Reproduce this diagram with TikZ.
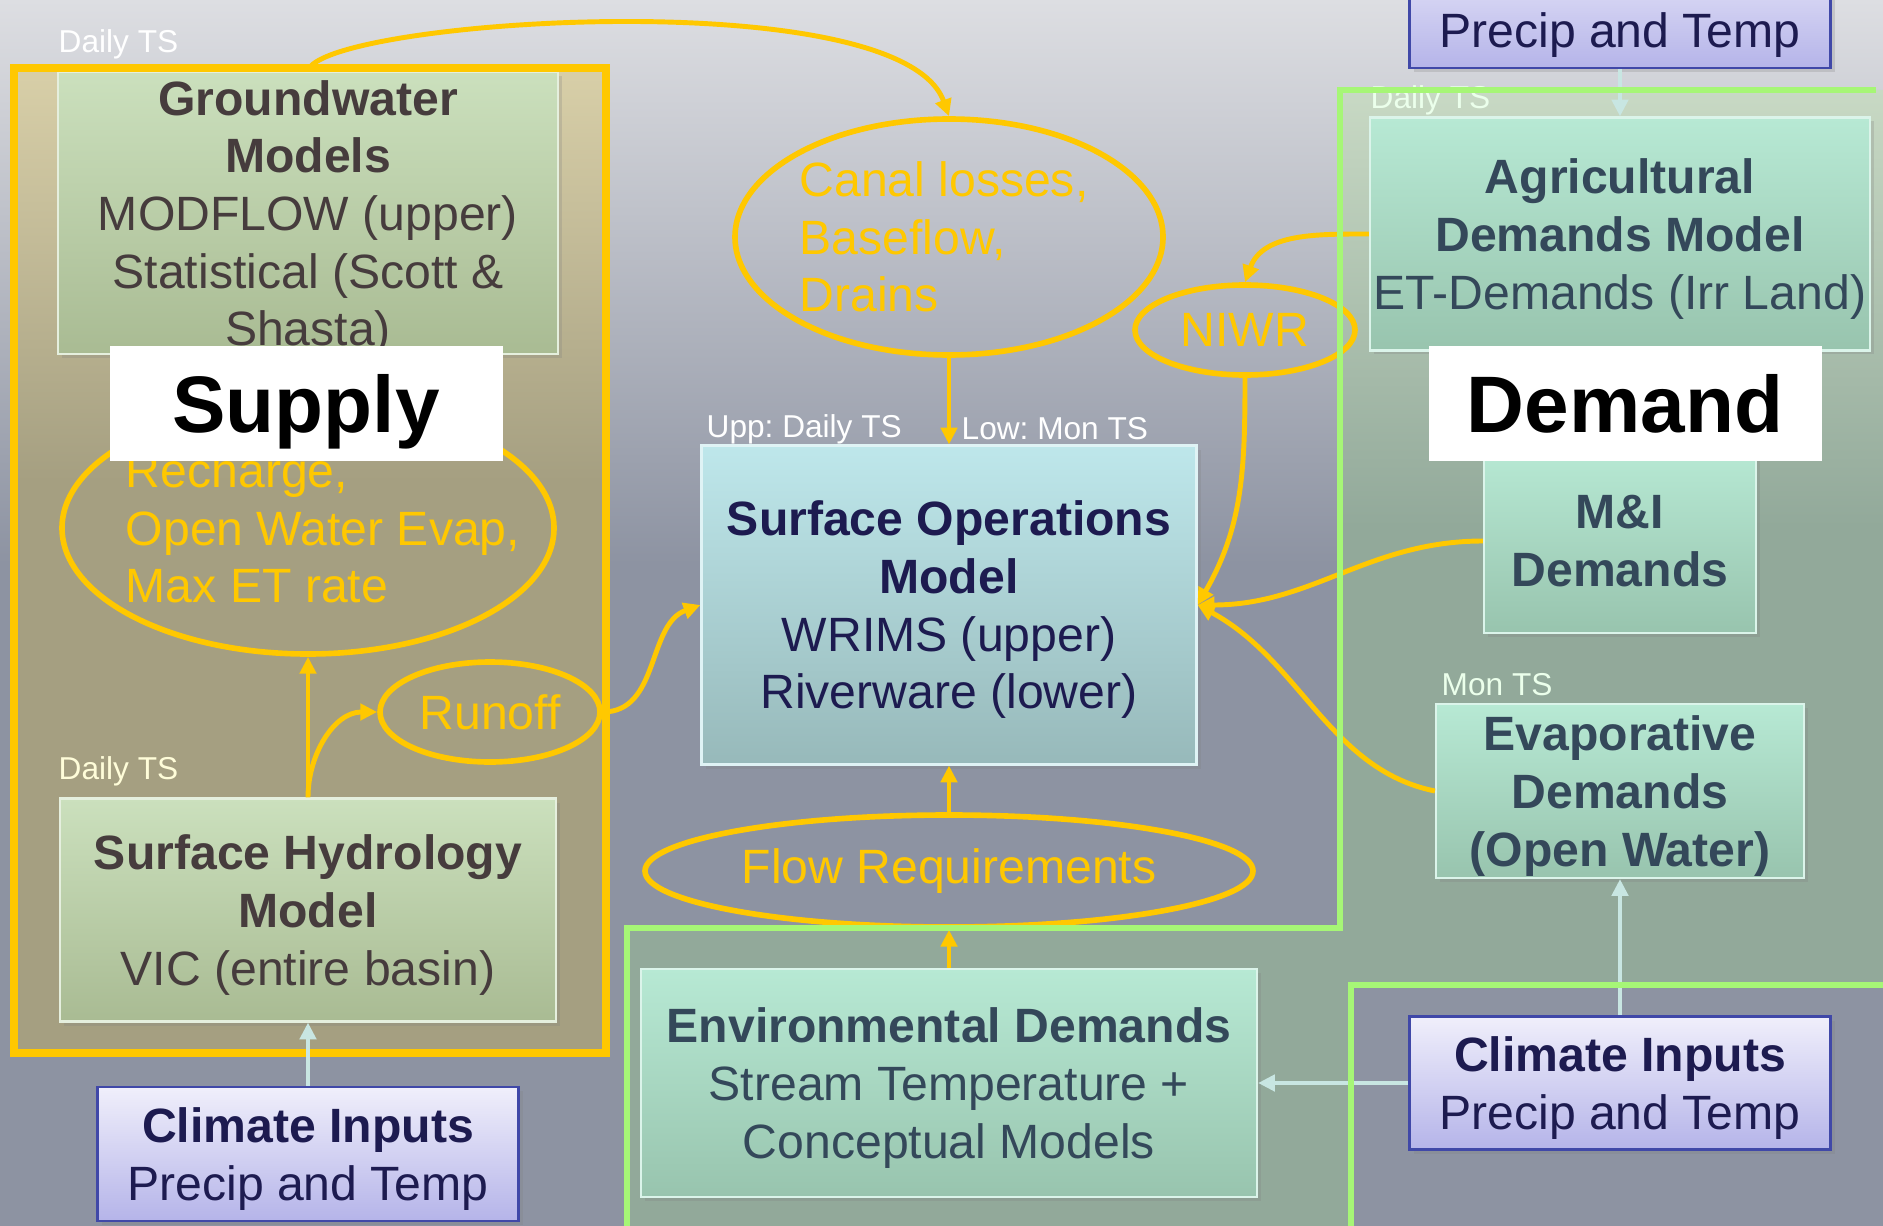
\documentclass[tikz,border=0pt]{standalone}
\usepackage{fontspec}
\setmainfont{Liberation Sans}
\usetikzlibrary{arrows.meta, shapes.geometric, shadows}
\frenchspacing

\definecolor{bgtop}{HTML}{DDDEE2}
\definecolor{bgbot}{HTML}{8D93A2}
\definecolor{suptop}{HTML}{D8CFA8}
\definecolor{supbot}{HTML}{A59F81}
\definecolor{demtop}{HTML}{C8D9C4}
\definecolor{dembot}{HTML}{92A99A}
\definecolor{gold}{HTML}{FFC800}
\definecolor{lime}{HTML}{A6F676}
\definecolor{sagetop}{HTML}{CBE0BD}
\definecolor{sagebot}{HTML}{A9BB93}
\definecolor{minttop}{HTML}{B7E9D4}
\definecolor{mintbot}{HTML}{98C4AE}
\definecolor{aquatop}{HTML}{BEE7EB}
\definecolor{aquabot}{HTML}{97B9BA}
\definecolor{liltop}{HTML}{F0EFFB}
\definecolor{lilbot}{HTML}{B5B4E9}
\definecolor{lilrule}{HTML}{4048A8}
\definecolor{brownink}{HTML}{463C3D}
\definecolor{navyink}{HTML}{1D1B50}
\definecolor{slateink}{HTML}{34485A}
\definecolor{pale}{HTML}{C8E6E2}

\pgfdeclareverticalshading{bgfade}{100bp}{color(0bp)=(bgbot); color(52bp)=(bgbot); color(75bp)=(bgtop); color(100bp)=(bgtop)}
\pgfdeclareverticalshading{supfade}{100bp}{color(0bp)=(supbot); color(54bp)=(supbot); color(75bp)=(suptop); color(100bp)=(suptop)}
\pgfdeclareverticalshading{demfade}{100bp}{color(0bp)=(dembot); color(56bp)=(dembot); color(75bp)=(demtop); color(100bp)=(demtop)}

\newcommand{\mdlfont}{\fontsize{13.7}{16.4}\selectfont}
\newcommand{\tsfont}{\fontsize{9}{10}\selectfont}
\newcommand{\zonefont}{\fontsize{22.8}{26}\selectfont\bfseries}

\begin{document}
\begin{tikzpicture}[x = 0.1mm, y = -0.1mm,
		model/.style = {rectangle, inner sep = 0pt, align = center, font = \mdlfont, line width = 0.6pt, text depth = 0pt,
			drop shadow = {opacity = 0.25, shadow xshift = 0.4mm, shadow yshift = -0.4mm}},
		sage/.style = {model, top color = sagetop, bottom color = sagebot, draw = sagetop!50!white, text = brownink},
		mint/.style = {model, top color = minttop, bottom color = mintbot, draw = minttop!50!white, text = slateink},
		aqua/.style = {model, top color = aquatop, bottom color = aquabot, draw = aquatop!50!white, text = navyink},
		climate/.style = {model, top color = liltop, bottom color = lilbot, draw = lilrule, line width = 0.8pt, text = navyink},
		bubble/.style = {ellipse, draw = gold, line width = 1.6pt, inner sep = 0pt, text = gold, font = \mdlfont},
		bubbletext/.style = {text = gold, font = \mdlfont, align = left, inner sep = 0pt},
		tsnote/.style = {anchor = west, inner sep = 0pt, font = \tsfont, text = white},
		zonetag/.style = {fill = white, inner sep = 0pt, font = \zonefont, text depth = 0pt, minimum width = 39.3mm, minimum height = 11.5mm},
		goldarrow/.style = {draw = gold, line width = 1.4pt, -{Triangle[length = 4.8pt, width = 4.6pt]}},
		palearrow/.style = {draw = pale, line width = 1.3pt, -{Triangle[length = 4.8pt, width = 4.6pt]}}]
	\useasboundingbox (0, 0) rectangle (1883, 1226);
	\shade[shading = bgfade] (0, 0) rectangle (1883, 1226);
	% supply and demand areas
	\shade[shading = supfade] (14, 68) rectangle (606, 1053);
	\shade[shading = demfade] (1340, 928) -- (1340, 90) -- (1900, 90) -- (1900, 985) -- (1351, 985) -- (1351, 1240) -- (627, 1240) -- (627, 928) -- cycle;

	\node[tsnote] (tsgw) at (58, 44) {Daily TS};
	\node[tsnote, text = yellow!15!white] (tshydro) at (58, 771) {Daily TS};
	\node[tsnote] (tsupp) at (706, 429) {Upp: Daily TS};
	\node[tsnote] (tslow) at (961, 429) {Low: Mon TS};
	\node[tsnote, text = green!8!white] (tsagri) at (1370, 100) {Daily TS};
	\node[tsnote, text = green!8!white] (tsevap) at (1441, 685) {Mon TS};

	% supply side
	\node[sage, minimum width = 50mm, minimum height = 28.2mm] (gw) at (308, 213)
		{\textbf{Groundwater}\\\textbf{Models}\\MODFLOW (upper)\\Statistical (Scott \&\\Shasta)};
	\node[bubble, minimum width = 49.2mm, minimum height = 25.2mm,
		label = {[bubbletext, xshift = 1.5mm]center:Recharge,\\Open Water Evap,\\Max ET rate}] (recharge) at (308, 528) {};
	\node[bubble, minimum width = 22mm, minimum height = 10mm] (runoff) at (490, 712) {Runoff};
	\node[sage, minimum width = 49.6mm, minimum height = 22.3mm] (hydro) at (308, 910)
		{\textbf{Surface Hydrology}\\\textbf{Model}\\VIC (entire basin)};
	\node[climate, minimum width = 42.1mm, minimum height = 13.4mm] (climsw) at (308, 1154)
		{\textbf{Climate Inputs}\\Precip and Temp};
	\draw[gold, line width = 2pt] (14, 68) rectangle (606, 1053);

	% operations
	\node[bubble, minimum width = 42.8mm, minimum height = 23.6mm,
		label = {[bubbletext, xshift = -0.5mm]center:Canal losses,\\Baseflow,\\Drains}] (canal) at (949, 237) {};
	\node[aqua, minimum width = 49.5mm, minimum height = 31.9mm] (ops) at (949, 605)
		{\textbf{Surface Operations}\\\textbf{Model}\\WRIMS (upper)\\Riverware (lower)};
	\node[bubble, minimum width = 60.8mm, minimum height = 11.2mm] (flowreq) at (949, 871) {Flow Requirements};
	\node[mint, minimum width = 61.6mm, minimum height = 22.8mm] (env) at (949, 1083)
		{\textbf{Environmental Demands}\\Stream Temperature +\\Conceptual Models};

	% demand side
	\node[bubble, minimum width = 22mm, minimum height = 9mm] (niwr) at (1245, 330) {NIWR};
	\node[climate, minimum width = 42.1mm, minimum height = 13.4mm] (climne) at (1620, 1)
		{\textbf{Climate Inputs}\\Precip and Temp};
	\node[mint, minimum width = 50mm, minimum height = 23.3mm] (agri) at (1620, 234)
		{\textbf{Agricultural}\\\textbf{Demands Model}\\ET-Demands (Irr Land)};
	\node[mint, minimum width = 27.2mm, minimum height = 18.4mm] (mandi) at (1620, 541)
		{\textbf{M\&I}\\\textbf{Demands}};
	\node[mint, minimum width = 36.8mm, minimum height = 17.4mm] (evap) at (1620, 791)
		{\textbf{Evaporative}\\\textbf{Demands}\\\textbf{(Open Water)}};
	\node[climate, minimum width = 42.1mm, minimum height = 13.3mm] (climse) at (1620, 1083)
		{\textbf{Climate Inputs}\\Precip and Temp};

	% links
	\draw[goldarrow] (gw.north) .. controls (320, 20) and (900, -20) .. (canal.north);
	\draw[goldarrow] (canal.south) -- (ops.north);
	\draw[goldarrow] (hydro.north) -- (recharge.south);
	\draw[goldarrow] (hydro.north) to[out = 90, in = 180] (runoff.west);
	\draw[goldarrow] (runoff.east) to[out = 0, in = 200] (ops.west);
	\draw[palearrow] (climsw.north) -- (hydro.south);
	\draw[goldarrow] (agri.west) to[out = 180, in = 70] (niwr.north);
	\draw[goldarrow] (niwr.south) to[out = -90, in = 60] (ops.east);
	\draw[goldarrow] (mandi.west) to[out = 180, in = 0] (ops.east);
	\draw[goldarrow] (evap.west) .. controls (1330, 770) and (1300, 660) .. (ops.east);
	\draw[goldarrow] (flowreq.north) -- (ops.south);
	\draw[goldarrow] (env.north) -- (flowreq.south);
	\draw[palearrow] (climse.west) -- (env.east);
	\draw[palearrow] (climse.north) -- (evap.south);
	\draw[palearrow] (climne.south) -- (agri.north);

	\draw[lime, line width = 1.9pt] (627, 1240) -- (627, 928) -- (1340, 928) -- (1340, 90) -- (1876, 90);
	\draw[lime, line width = 1.9pt] (1351, 1240) -- (1351, 985) -- (1900, 985);

	\node[zonetag] (supply) at (306, 403) {Supply};
	\node[zonetag] (demand) at (1625, 403) {Demand};
\end{tikzpicture}
\end{document}
